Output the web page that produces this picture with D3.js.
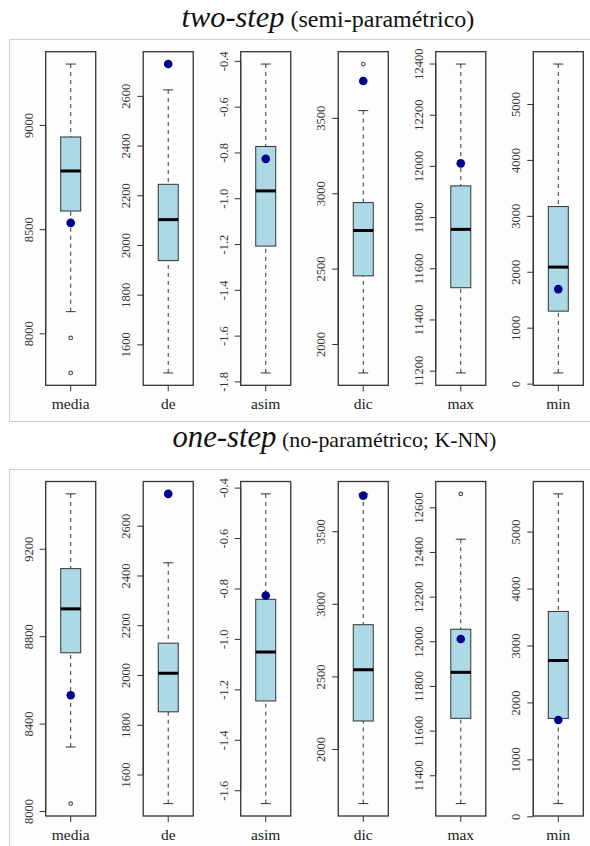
<!DOCTYPE html>
<html>
<head>
<meta charset="utf-8">
<script src="https://cdn.jsdelivr.net/npm/d3@7"></script>
<style>
  html, body { margin: 0; padding: 0; background: #ffffff; }
  svg { display: block; }
</style>
</head>
<body>
<svg id="chart" width="590" height="846"></svg>
<script>
// ---------------- DATA ----------------
const variables = ["media", "de", "asim", "dic", "max", "min"];

// true (reference) values, shown as dark blue dots
const trueValues = [8530, 2728, -0.828, 3745, 12010, 1690];

// two-step (semi-paramétrico)
const twoStepLowerWhisker = [8104, 1485, -1.763, 1808, 11191, 191];
const twoStepQ1           = [8587, 1937, -1.209, 2452, 11524, 1296];
const twoStepMedian       = [8779, 2102, -0.968, 2753, 11752, 2084];
const twoStepQ3           = [8942, 2244, -0.774, 2938, 11922, 3166];
const twoStepUpperWhisker = [9292, 2624, -0.414, 3548, 12398, 5714];
const twoStepOutliers     = [[7978, 7810], [], [], [3857], [], []];
const twoStepTicks = [
  [8000, 8500, 9000],
  [1600, 1800, 2000, 2200, 2400, 2600],
  [-1.8, -1.6, -1.4, -1.2, -1.0, -0.8, -0.6, -0.4],
  [2000, 2500, 3000, 3500],
  [11200, 11400, 11600, 11800, 12000, 12200, 12400],
  [0, 1000, 2000, 3000, 4000, 5000]
];

// one-step (no-paramétrico; K-NN)
const oneStepLowerWhisker = [8293, 1483, -1.653, 1624, 11273, 223];
const oneStepQ1           = [8724, 1852, -1.246, 2193, 11655, 1719];
const oneStepMedian       = [8925, 2007, -1.052, 2546, 11861, 2736];
const oneStepQ3           = [9109, 2128, -0.843, 2856, 12054, 3598];
const oneStepUpperWhisker = [9451, 2451, -0.425, 3757, 12457, 5662];
const oneStepOutliers     = [[8034], [], [], [], [12660], []];
const oneStepTicks = [
  [8000, 8400, 8800, 9200],
  [1600, 1800, 2000, 2200, 2400, 2600],
  [-1.6, -1.4, -1.2, -1.0, -0.8, -0.6, -0.4],
  [2000, 2500, 3000, 3500],
  [11400, 11600, 11800, 12000, 12200, 12400, 12600],
  [0, 1000, 2000, 3000, 4000, 5000]
];

// ---------------- DRAW ----------------
const svg = d3.select("#chart");
const serif = "Liberation Serif";

const panels = [
  {
    italic: "two-step", rest: " (semi-paramétrico)", titleX: 181.5, titleY: 27,
    italicW: 103, restW: 190,
    border: [9.5, 39.5, 620, 382], top: 51.7, bottom: 385.3,
    lo: twoStepLowerWhisker, q1: twoStepQ1, med: twoStepMedian, q3: twoStepQ3,
    hi: twoStepUpperWhisker, out: twoStepOutliers, ticks: twoStepTicks
  },
  {
    italic: "one-step", rest: " (no-paramétrico; K-NN)", titleX: 172.5, titleY: 447,
    italicW: 104, restW: 220,
    border: [9.5, 469.5, 620, 420], top: 481.5, bottom: 816,
    lo: oneStepLowerWhisker, q1: oneStepQ1, med: oneStepMedian, q3: oneStepQ3,
    hi: oneStepUpperWhisker, out: oneStepOutliers, ticks: oneStepTicks
  }
];

const xBand = d3.scaleBand()
  .domain(variables)
  .range([45.7, 583.3])
  .paddingInner(0.487)
  .paddingOuter(0);

const boxW = 20;
const stapleW = 10;

panels.forEach(p => {
  // panel border
  svg.append("rect")
    .attr("x", p.border[0]).attr("y", p.border[1])
    .attr("width", p.border[2]).attr("height", p.border[3])
    .attr("fill", "#fdfdfd").attr("stroke", "#cfcfcf").attr("stroke-width", 1);

  // title (font sizes fitted to the measured widths)
  const t = svg.append("text")
    .attr("x", p.titleX).attr("y", p.titleY)
    .attr("font-family", serif).attr("fill", "#111");
  const ti = t.append("tspan").attr("font-style", "italic").attr("font-size", 29).text(p.italic);
  const tr = t.append("tspan").attr("font-size", 23).text(p.rest);
  const wi = ti.node().getComputedTextLength();
  ti.attr("font-size", Math.min(31, 29 * p.italicW / wi));
  const wr = tr.node().getComputedTextLength();
  tr.attr("font-size", Math.min(24.5, 23 * p.restW / wr));

  variables.forEach((v, i) => {
    const vals = [p.lo[i], p.hi[i], trueValues[i], ...p.out[i]];
    const mn = d3.min(vals), mx = d3.max(vals);
    const pad = (mx - mn) * 0.04;
    const y = d3.scaleLinear().domain([mn - pad, mx + pad]).range([p.bottom, p.top]);

    const x0 = xBand(v);
    const bw = xBand.bandwidth();
    const cx = x0 + bw / 2;

    const g = svg.append("g");

    // y axis
    const fmt = v === "asim" ? d3.format(".1f") : d3.format("d");
    const ax = g.append("g")
      .attr("transform", `translate(${x0},0)`)
      .call(d3.axisLeft(y).tickValues(p.ticks[i]).tickSize(6).tickSizeOuter(0)
        .tickFormat(d => fmt(d).replace("−", "-")));
    ax.attr("font-family", serif).attr("font-size", 12.5);
    ax.select(".domain").remove();
    ax.selectAll(".tick line").attr("stroke", "#333").attr("stroke-width", 1);
    ax.selectAll(".tick text")
      .attr("x", null).attr("dy", null)
      .attr("transform", "translate(-13,0) rotate(-90)")
      .attr("text-anchor", "middle")
      .attr("font-family", serif).attr("font-size", 12.5).attr("fill", "#333");
    // axis line from first to last tick
    const tk = p.ticks[i];
    g.append("line")
      .attr("x1", x0).attr("x2", x0)
      .attr("y1", y(d3.min(tk))).attr("y2", y(d3.max(tk)))
      .attr("stroke", "#333").attr("stroke-width", 1);

    // x axis tick + label
    g.append("line")
      .attr("x1", cx).attr("x2", cx)
      .attr("y1", p.bottom).attr("y2", p.bottom + 6)
      .attr("stroke", "#333").attr("stroke-width", 1);
    g.append("text")
      .attr("x", cx).attr("y", p.bottom + 24)
      .attr("text-anchor", "middle")
      .attr("font-family", serif).attr("font-size", 15.5).attr("fill", "#222")
      .text(v);

    // whiskers (dashed)
    [[p.hi[i], p.q3[i]], [p.lo[i], p.q1[i]]].forEach(([a, b]) => {
      g.append("line")
        .attr("x1", cx).attr("x2", cx)
        .attr("y1", y(a)).attr("y2", y(b))
        .attr("stroke", "#333").attr("stroke-width", 1)
        .attr("stroke-dasharray", "4,4");
      g.append("line")
        .attr("x1", cx - stapleW / 2).attr("x2", cx + stapleW / 2)
        .attr("y1", y(a)).attr("y2", y(a))
        .attr("stroke", "#333").attr("stroke-width", 1);
    });

    // box
    g.append("rect")
      .attr("x", cx - boxW / 2).attr("width", boxW)
      .attr("y", y(p.q3[i])).attr("height", y(p.q1[i]) - y(p.q3[i]))
      .attr("fill", "#add8e6").attr("stroke", "#333").attr("stroke-width", 1);
    // median
    g.append("line")
      .attr("x1", cx - boxW / 2).attr("x2", cx + boxW / 2)
      .attr("y1", y(p.med[i])).attr("y2", y(p.med[i]))
      .attr("stroke", "#000").attr("stroke-width", 3);

    // outliers
    g.selectAll(".out").data(p.out[i]).enter().append("circle")
      .attr("cx", cx).attr("cy", d => y(d)).attr("r", 1.8)
      .attr("fill", "none").attr("stroke", "#555").attr("stroke-width", 1.2);

    // true value
    g.append("circle")
      .attr("cx", cx).attr("cy", y(trueValues[i])).attr("r", 4.3)
      .attr("fill", "#00008b");

    // frame
    g.append("rect")
      .attr("x", x0).attr("y", p.top)
      .attr("width", bw).attr("height", p.bottom - p.top)
      .attr("fill", "none").attr("stroke", "#333").attr("stroke-width", 1.3);
  });
});
</script>
</body>
</html>
